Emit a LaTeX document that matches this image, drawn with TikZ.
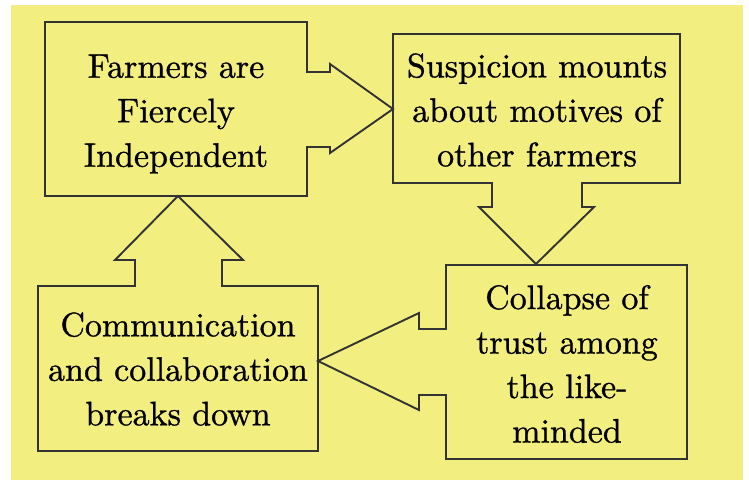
\documentclass[tikz,border=0pt]{standalone}
\usepackage{fontspec}
\newfontfamily\boxfont{lmroman10-regular.otf}[FakeBold=0.9]
\definecolor{bgyellow}{HTML}{F2EE80}
\definecolor{edge}{HTML}{333333}
\tikzset{
  shapeline/.style={draw=edge, line width=1.9pt, line join=miter},
  boxtext/.style={align=center, inner sep=0pt, font=\boxfont\fontsize{34}{44.5}\selectfont, text=black}
}
\begin{document}
\begin{tikzpicture}[x=1pt,y=-1pt]
\useasboundingbox (0,0) rectangle (749,480);
\fill[white] (0,0) rectangle (749,480);
\fill[bgyellow] (11,5) rectangle (743,480);
% Box 1 with right arrow
\draw[shapeline] (45,22) -- (307,22) -- (307,72) -- (330,72) -- (330,64) -- (393,109)
  -- (330,153) -- (330,147) -- (307,147) -- (307,196) -- (45,196) -- cycle;
% Box 2 with down arrow
\draw[shapeline] (393,34) -- (680,34) -- (680,183) -- (582,183) -- (582,207) -- (594,207)
  -- (536,264) -- (479,207) -- (492,207) -- (492,183) -- (393,183) -- cycle;
% Box 3 with left arrow
\draw[shapeline] (446,265) -- (687,265) -- (687,459) -- (446,459) -- (446,395) -- (419,395)
  -- (419,410) -- (318,361) -- (419,313) -- (419,329) -- (446,329) -- cycle;
% Box 4 with up arrow
\draw[shapeline] (38,286) -- (135,286) -- (135,260) -- (115,260) -- (178,196) -- (243,260)
  -- (222,260) -- (222,286) -- (318,286) -- (318,451) -- (38,451) -- cycle;
% Texts
\node[boxtext] (t1) at (176,114) {Farmers are\\Fiercely\\Independent};
\node[boxtext] (t2) at (537,110) {Suspicion mounts\\about motives of\\other farmers};
\node[boxtext] (t3) at (567,364) {Collapse of\\trust among\\the like-\\minded};
\node[boxtext] (t4) at (178,369) {Communication\\and collaboration\\breaks down};
\end{tikzpicture}
\end{document}
